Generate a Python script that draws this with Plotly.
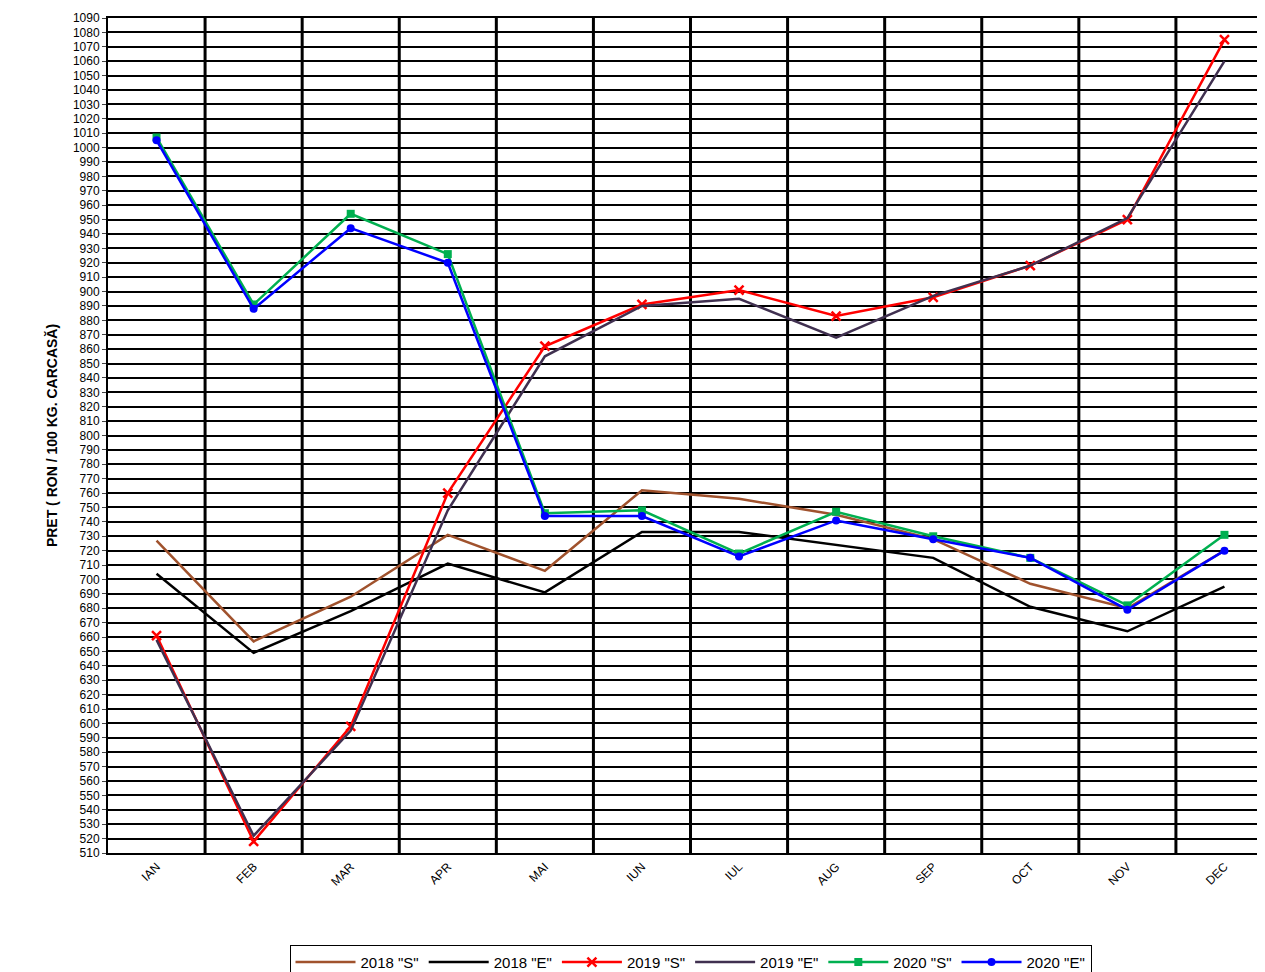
import plotly.graph_objects as go

months = ['IAN', 'FEB', 'MAR', 'APR', 'MAI', 'IUN', 'IUL', 'AUG', 'SEP', 'OCT', 'NOV', 'DEC']
s2018 = [727, 657, 688, 731, 706, 762, 756, 745, 728, 697, 680, 720]
e2018 = [704, 649, 678, 711, 691, 733, 733, 724, 715, 681, 664, 695]
s2019 = [661, 518, 598, 760, 862, 891, 901, 883, 896, 918, 950, 1075]
e2019 = [658, 522, 595, 748, 855, 890, 895, 868, 897, 918, 951, 1060]
s2020 = [1007, 891, 954, 926, 746, 748, 718, 747, 730, 715, 682, 731]
e2020 = [1005, 888, 944, 920, 744, 744, 716, 741, 728, 715, 679, 720]

x = list(range(len(months)))
fig = go.Figure()
fig.add_trace(go.Scatter(x=x, y=s2018, name='2018 "S"', mode='lines', line=dict(color='#a0522d', width=2.5)))
fig.add_trace(go.Scatter(x=x, y=e2018, name='2018 "E"', mode='lines', line=dict(color='black', width=2.5)))
fig.add_trace(go.Scatter(x=x, y=s2019, name='2019 "S"', mode='lines+markers',
                         line=dict(color='#ff0000', width=2.5), marker=dict(symbol='x-thin', size=9, line=dict(width=2.5, color='#ff0000'))))
fig.add_trace(go.Scatter(x=x, y=e2019, name='2019 "E"', mode='lines', line=dict(color='#403050', width=2.5)))
fig.add_trace(go.Scatter(x=x, y=s2020, name='2020 "S"', mode='lines+markers',
                         line=dict(color='#00b050', width=2.5), marker=dict(symbol='square', size=8)))
fig.add_trace(go.Scatter(x=x, y=e2020, name='2020 "E"', mode='lines+markers',
                         line=dict(color='#0000ff', width=2.5), marker=dict(symbol='circle', size=8)))

for i in range(len(months) - 1):
    fig.add_shape(type='line', xref='x', yref='paper', x0=i + 0.5, x1=i + 0.5, y0=0, y1=1,
                  line=dict(color='black', width=3), layer='below')

fig.update_layout(
    width=1265, height=972, plot_bgcolor='white', paper_bgcolor='white',
    margin=dict(l=100, r=0, t=10, b=100),
    font=dict(family='Liberation Sans, Arial', size=12, color='black'),
    legend=dict(orientation='h', x=0.5, xanchor='center', y=-0.11, yanchor='top',
                bordercolor='black', borderwidth=1, font=dict(size=15), itemwidth=60),
)
fig.update_xaxes(range=[-0.5, 11.5], tickvals=x, ticktext=months, tickangle=-45,
                 showgrid=False, zeroline=False, showline=True, linecolor='black', linewidth=2, mirror=True,
                 ticks='', tickfont=dict(size=12), automargin=False)
fig.update_yaxes(range=[510, 1090], dtick=10, showgrid=True, gridcolor='black', gridwidth=1.5,
                 zeroline=False, showline=True, linecolor='black', linewidth=2, mirror=True, ticks='outside',
                 ticklen=4, tickfont=dict(size=12), automargin=False,
                 title=dict(text='<b>PRET ( RON / 100 KG. CARCASĂ)</b>', font=dict(size=14), standoff=12))
fig.write_html("out.html")
